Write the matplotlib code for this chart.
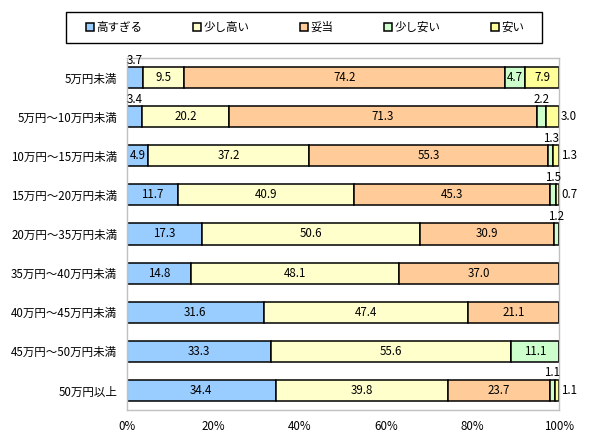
import matplotlib

matplotlib.use("Agg")

import matplotlib.pyplot as plt
from matplotlib.patches import Rectangle
import numpy as np

plt.rcParams["font.family"] = ["Noto Sans CJK JP", "DejaVu Sans"]

CATEGORIES = [
    "5万円未満",
    "5万円～10万円未満",
    "10万円～15万円未満",
    "15万円～20万円未満",
    "20万円～35万円未満",
    "35万円～40万円未満",
    "40万円～45万円未満",
    "45万円～50万円未満",
    "50万円以上",
]
SERIES = ["高すぎる", "少し高い", "妥当", "少し安い", "安い"]
TOO_HIGH = [3.7, 3.4, 4.9, 11.7, 17.3, 14.8, 31.6, 33.3, 34.4]
BIT_HIGH = [9.5, 20.2, 37.2, 40.9, 50.6, 48.1, 47.4, 55.6, 39.8]
FAIR = [74.2, 71.3, 55.3, 45.3, 30.9, 37.0, 21.1, 0.0, 23.7]
BIT_CHEAP = [4.7, 2.2, 1.3, 1.5, 1.2, 0.0, 0.0, 11.1, 1.1]
CHEAP = [7.9, 3.0, 1.3, 0.7, 0.0, 0.0, 0.0, 0.0, 1.1]

COLORS = ["#99CCFF", "#FFFFCC", "#FFCC99", "#CCFFCC", "#FFFF99"]
BORDER = "#C0C0C0"
FS = 8.3

# label placement for thin segments: "above" or "right"
SMALL_PLACE = {(0, 0): "above", (1, 0): "above", (1, 3): "above", (1, 4): "right",
               (2, 3): "above", (2, 4): "right", (3, 3): "above", (3, 4): "right",
               (4, 3): "above", (8, 3): "above", (8, 4): "right"}

fig = plt.figure(figsize=(5.9, 4.4), dpi=100)
ax = fig.add_axes([127 / 590, 1 - 410 / 440, (559 - 127) / 590, 352 / 440])

data = np.array([TOO_HIGH, BIT_HIGH, FAIR, BIT_CHEAP, CHEAP])
y = np.arange(len(CATEGORIES))
left = np.zeros(len(CATEGORIES))
for s, (name, vals) in enumerate(zip(SERIES, data)):
    ax.barh(y, vals, left=left, height=0.54, color=COLORS[s], edgecolor="black",
            linewidth=1.1, label=name)
    for i, v in enumerate(vals):
        if v <= 0:
            continue
        cx = left[i] + v / 2
        place = SMALL_PLACE.get((i, s))
        if place == "above":
            ax.text(cx, y[i] - 0.28, f"{v:.1f}", ha="center", va="bottom", fontsize=FS)
        elif place == "right":
            ax.text(100.5, y[i], f"{v:.1f}", ha="left", va="center", fontsize=FS)
        else:
            ax.text(cx, y[i], f"{v:.1f}", ha="center", va="center", fontsize=FS)
    left += vals

ax.set_xlim(0, 100)
ax.set_ylim(len(CATEGORIES) - 0.5, -0.5)
ax.set_yticks(y, CATEGORIES, fontsize=FS)
ax.set_xticks(np.arange(0, 101, 20), [f"{t}%" for t in range(0, 101, 20)], fontsize=FS)
ax.tick_params(axis="both", length=0, pad=7)
for spine in ax.spines.values():
    spine.set_color(BORDER)
    spine.set_linewidth(1.0)

# legend frame drawn separately so the box matches the reference size
fig.patches.append(Rectangle((66 / 590, 1 - 43 / 440), 476 / 590, 31 / 440,
                             transform=fig.transFigure, fill=False,
                             edgecolor="black", linewidth=1.0))
leg = fig.legend(loc="center left", bbox_to_anchor=(86 / 590, 1 - 27.5 / 440, 438 / 590, 0),
                 mode="expand", ncol=5, fontsize=FS, handlelength=0.7, handleheight=0.7,
                 handletextpad=0.2, frameon=False, borderaxespad=0.0, borderpad=0.0)

fig.savefig("out.png", dpi=100)
